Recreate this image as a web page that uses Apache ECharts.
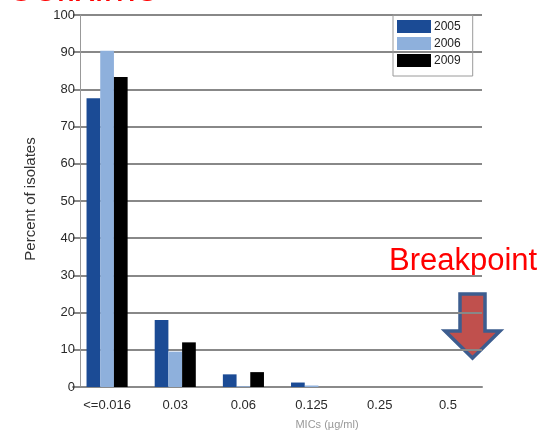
<!DOCTYPE html>
<html>
<head>
<meta charset="utf-8">
<script src="https://cdn.jsdelivr.net/npm/echarts@6/dist/echarts.min.js"></script>
<style>
html,body{margin:0;padding:0;background:#fff;}
#c{width:554px;height:433px;}
</style>
</head>
<body>
<div id="c"></div>
<script>
const categories = ['<=0.016', '0.03', '0.06', '0.125', '0.25', '0.5'];
const seriesNames = ['2005', '2006', '2009'];
const s2005 = [77.6, 18, 3.4, 1.2, 0, 0];
const s2006 = [90.4, 9.5, 0.2, 0.4, 0, 0];
const s2009 = [83.3, 12, 4, 0, 0, 0];
const colors = ['#1b4b95', '#8eb0dc', '#000000'];

const FONT = '"Liberation Sans", Arial, sans-serif';
const chart = echarts.init(document.getElementById('c'), null, {renderer: 'canvas'});

const barCommon = {type: 'bar', barWidth: 13.7, barGap: '0%'};

chart.setOption({
  animation: false,
  backgroundColor: '#ffffff',
  textStyle: {fontFamily: FONT},
  grid: {left: 73, right: 72, top: 15, bottom: 46, containLabel: false},
  legend: {
    orient: 'vertical',
    left: 393, top: 15,
    padding: [5, 12, 9, 4],
    itemWidth: 34, itemHeight: 13, itemGap: 4,
    icon: 'rect',
    borderColor: '#9a9a9a', borderWidth: 1,
    textStyle: {fontSize: 12, color: '#222', fontFamily: FONT, padding: [0, 0, 0, -2]},
    data: seriesNames
  },
  xAxis: {
    type: 'category',
    data: categories,
    axisLine: {lineStyle: {color: '#8a8a8a', width: 2}},
    axisTick: {show: false},
    axisLabel: {fontSize: 13, color: '#2a2a2a', margin: 12, fontFamily: FONT}
  },
  yAxis: {
    type: 'value',
    min: 0, max: 100, interval: 10,
    offset: -7,
    axisLine: {show: true, lineStyle: {color: '#999', width: 1}},
    axisTick: {show: true, length: 4, lineStyle: {color: '#888', width: 1}},
    splitLine: {lineStyle: {color: '#888888', width: 2}},
    axisLabel: {fontSize: 13, color: '#2a2a2a', margin: 5, fontFamily: FONT}
  },
  series: [
    Object.assign({name: seriesNames[0], data: s2005, itemStyle: {color: colors[0]}}, barCommon),
    Object.assign({name: seriesNames[1], data: s2006, itemStyle: {color: colors[1]}}, barCommon),
    Object.assign({name: seriesNames[2], data: s2009, itemStyle: {color: colors[2]}}, barCommon)
  ],
  graphic: [
    {type: 'text', x: 6, y: -29, silent: true,
      style: {text: 'Cefixime', fill: '#ff0000', font: '39px ' + FONT, verticalAlign: 'top', align: 'left'}},
    {type: 'text', x: 389, y: 261, silent: true,
      style: {text: 'Breakpoint', fill: '#ff0000', font: '31px ' + FONT, verticalAlign: 'middle', align: 'left'}},
    {type: 'text', x: 31, y: 199, rotation: Math.PI / 2, silent: true,
      style: {text: 'Percent of isolates', fill: '#333', font: '15px ' + FONT, align: 'center', verticalAlign: 'middle'}},
    {type: 'text', x: 327, y: 425, silent: true,
      style: {text: 'MICs (µg/ml)', fill: '#999', font: '11px ' + FONT, align: 'center', verticalAlign: 'middle'}},
    {type: 'polygon', silent: true,
      shape: {points: [[460, 294], [485, 294], [485, 331], [500, 331], [472.5, 358], [445, 331], [460, 331]]},
      style: {fill: '#c0504d', stroke: '#3d5d8f', lineWidth: 3.5, lineJoin: 'miter'}}
  ]
});
</script>
</body>
</html>
